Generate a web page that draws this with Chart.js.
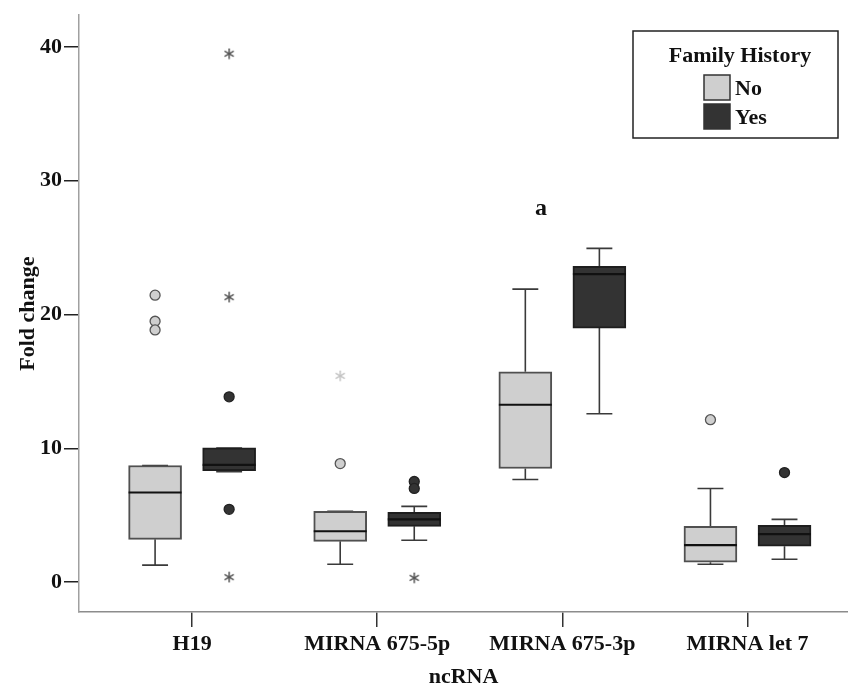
<!DOCTYPE html>
<html>
<head>
<meta charset="utf-8">
<script src="https://cdn.jsdelivr.net/npm/chart.js@4/dist/chart.umd.min.js"></script>
<style>
  html, body { margin: 0; padding: 0; background: #ffffff; }
  canvas { display: block; }
</style>
</head>
<body>
<canvas id="chart" width="848" height="684"></canvas>
<script>
// ncRNA fold change by family history: box plots (min, Q1, median, Q3, max)
const categories = ['H19', 'MIRNA 675-5p', 'MIRNA 675-3p', 'MIRNA let 7'];
const groups = ['No', 'Yes'];

const noMin    = [1.27, 1.34, 7.67, 1.34];
const noQ1     = [3.20, 3.05, 8.49, 1.49];
const noMedian = [6.70, 3.80, 13.26, 2.76];
const noQ3     = [8.72, 5.29, 15.72, 4.17];
const noMax    = [8.72, 5.29, 21.90, 7.00];
const noOutliers = [[21.45, 19.50, 18.85], [8.86], [], [12.14]];
const noExtremes = [[], [15.42], [], []];

const yesMin    = [8.25, 3.13, 12.59, 1.71];
const yesQ1     = [8.33, 4.17, 18.99, 2.68];
const yesMedian = [8.77, 4.69, 23.02, 3.58];
const yesQ3     = [10.03, 5.21, 23.61, 4.25];
const yesMax    = [10.03, 5.66, 24.95, 4.69];
const yesOutliers = [[13.85, 5.44], [7.52, 7.00], [], [8.19]];
const yesExtremes = [[39.50, 21.30, 0.37], [0.32], [], []];

const yTicks = [0, 10, 20, 30, 40];

// significance letter above the MIRNA 675-3p pair
const markLabels = ['a'];
const markCategory = [2];
const markValue = [27.9];

// drawing settings
const FONT = 'Liberation Serif';
const groupShift = [-0.2, 0.2];
const boxPx = 53;
const capHalf = 0.07;
const medHalf = 0.143;
const fills = ['#cfcfcf', '#333333'];
const edges = ['#505050', '#1e1e1e'];
const extremeColors = ['#c4c4c4', '#555555'];

function asterisk(color) {
  const s = 12;
  const c = document.createElement('canvas');
  c.width = s; c.height = s;
  const g = c.getContext('2d');
  g.strokeStyle = color;
  g.lineWidth = 1.5;
  g.lineCap = 'round';
  g.translate(s / 2, s / 2);
  const r = 4.7;
  for (let k = 0; k < 3; k++) {
    const a = Math.PI / 2 + k * Math.PI / 3;
    g.beginPath();
    g.moveTo(r * Math.cos(a), r * Math.sin(a));
    g.lineTo(-r * Math.cos(a), -r * Math.sin(a));
    g.stroke();
  }
  return c;
}

const stats = [
  { min: noMin, q1: noQ1, med: noMedian, q3: noQ3, max: noMax, out: noOutliers, ext: noExtremes },
  { min: yesMin, q1: yesQ1, med: yesMedian, q3: yesQ3, max: yesMax, out: yesOutliers, ext: yesExtremes }
];

const datasets = [];
stats.forEach((s, g) => {
  const xs = categories.map((_, i) => i + groupShift[g]);

  // whiskers and caps
  const wh = [];
  xs.forEach((x, i) => {
    if (s.max[i] > s.q3[i]) {
      wh.push({ x: x, y: s.q3[i] }, { x: x, y: s.max[i] }, { x: x, y: null });
    }
    wh.push({ x: x - capHalf, y: s.max[i] }, { x: x + capHalf, y: s.max[i] }, { x: x, y: null });
    if (s.min[i] < s.q1[i]) {
      wh.push({ x: x, y: s.q1[i] }, { x: x, y: s.min[i] }, { x: x, y: null });
    }
    wh.push({ x: x - capHalf, y: s.min[i] }, { x: x + capHalf, y: s.min[i] }, { x: x, y: null });
  });
  datasets.push({
    type: 'line', label: groups[g] + ' whiskers', data: wh, order: 3,
    borderColor: '#3a3a3a', borderWidth: 1.6, pointRadius: 0, spanGaps: false, fill: false, tension: 0
  });

  // boxes
  datasets.push({
    type: 'bar', label: groups[g], order: 2,
    data: xs.map((x, i) => ({ x: x, y: [s.q1[i], s.q3[i]] })),
    backgroundColor: fills[g], borderColor: edges[g], borderWidth: 2,
    borderSkipped: false, barThickness: boxPx, grouped: false
  });

  // medians
  const md = [];
  xs.forEach((x, i) => {
    md.push({ x: x - medHalf, y: s.med[i] }, { x: x + medHalf, y: s.med[i] }, { x: x, y: null });
  });
  datasets.push({
    type: 'line', label: groups[g] + ' median', data: md, order: 1,
    borderColor: '#111111', borderWidth: 2.2, pointRadius: 0, spanGaps: false, fill: false, tension: 0
  });

  // outliers (circles) and extremes (asterisks)
  const outPts = [];
  const extPts = [];
  xs.forEach((x, i) => {
    s.out[i].forEach(v => outPts.push({ x: x, y: v }));
    s.ext[i].forEach(v => extPts.push({ x: x, y: v }));
  });
  datasets.push({
    type: 'scatter', label: groups[g] + ' outliers', data: outPts, order: 0,
    pointStyle: 'circle', pointRadius: 5, backgroundColor: fills[g],
    borderColor: g === 0 ? '#555555' : '#222222', borderWidth: 1.3
  });
  datasets.push({
    type: 'scatter', label: groups[g] + ' extremes', data: extPts, order: 0,
    pointStyle: asterisk(extremeColors[g]), pointRadius: 5
  });
});

const overlay = {
  id: 'overlay',
  afterDraw(chart) {
    const ctx = chart.ctx;
    const xs = chart.scales.x, ys = chart.scales.y;
    ctx.save();

    // significance letters
    ctx.fillStyle = '#111111';
    ctx.font = 'bold 24px "' + FONT + '"';
    ctx.textAlign = 'center';
    ctx.textBaseline = 'middle';
    markLabels.forEach((t, k) => {
      ctx.fillText(t, xs.getPixelForValue(markCategory[k] - 0.115), ys.getPixelForValue(markValue[k]));
    });

    // legend
    const L = 633, T = 31, W = 205, H = 107;
    ctx.strokeStyle = '#222222';
    ctx.lineWidth = 1.5;
    ctx.strokeRect(L, T, W, H);
    ctx.font = 'bold 22px "' + FONT + '"';
    ctx.textAlign = 'center';
    ctx.fillText('Family History', L + 107, T + 25);
    ctx.textAlign = 'left';
    groups.forEach((name, g) => {
      const top = T + 44 + g * 29;
      ctx.fillStyle = fills[g];
      ctx.fillRect(L + 71, top, 26, 25);
      ctx.strokeStyle = '#333333';
      ctx.lineWidth = 1.5;
      ctx.strokeRect(L + 71, top, 26, 25);
      ctx.fillStyle = '#111111';
      ctx.fillText(name, L + 102, top + 14);
    });
    ctx.restore();
  }
};

new Chart(document.getElementById('chart'), {
  type: 'bar',
  data: { datasets: datasets },
  plugins: [overlay],
  options: {
    responsive: false,
    animation: false,
    layout: { autoPadding: false, padding: { top: 13, right: 0, bottom: 0, left: 0 } },
    plugins: { legend: { display: false }, tooltip: { enabled: false } },
    scales: {
      x: {
        type: 'linear',
        min: -0.611,
        max: 3.543,
        offset: false,
        afterBuildTicks: s => { s.ticks = categories.map((_, i) => ({ value: i })); },
        afterFit: s => { s.height = 72; s.paddingLeft = 0; s.paddingRight = 0; },
        ticks: {
          autoSkip: false, maxRotation: 0, padding: 4, color: '#111111',
          font: { family: FONT, weight: 'bold', size: 22 },
          callback: v => categories[Math.round(v)]
        },
        grid: { offset: false, drawOnChartArea: false, drawTicks: true, tickLength: 15, color: '#333333', lineWidth: 1.5 },
        border: { display: true, color: '#8c8c8c', width: 1.5 },
        title: {
          display: true, text: 'ncRNA', color: '#111111',
          font: { family: FONT, weight: 'bold', size: 22, lineHeight: 0.4 },
          padding: { top: 0, bottom: 2.5 }
        }
      },
      y: {
        type: 'linear',
        min: -2.235,
        max: 42.38,
        afterBuildTicks: s => { s.ticks = yTicks.map(v => ({ value: v })); },
        afterFit: s => { s.width = 79; },
        ticks: {
          padding: 2, color: '#111111',
          font: { family: FONT, weight: 'bold', size: 22 }
        },
        grid: { drawOnChartArea: false, drawTicks: true, tickLength: 15, color: '#222222', lineWidth: 1.5 },
        border: { display: true, color: '#a0a0a0', width: 1.5 },
        title: {
          display: true, text: 'Fold change', color: '#111111',
          font: { family: FONT, weight: 'bold', size: 22 },
          padding: { top: 15, bottom: 0 }
        }
      }
    }
  }
});
</script>
</body>
</html>
